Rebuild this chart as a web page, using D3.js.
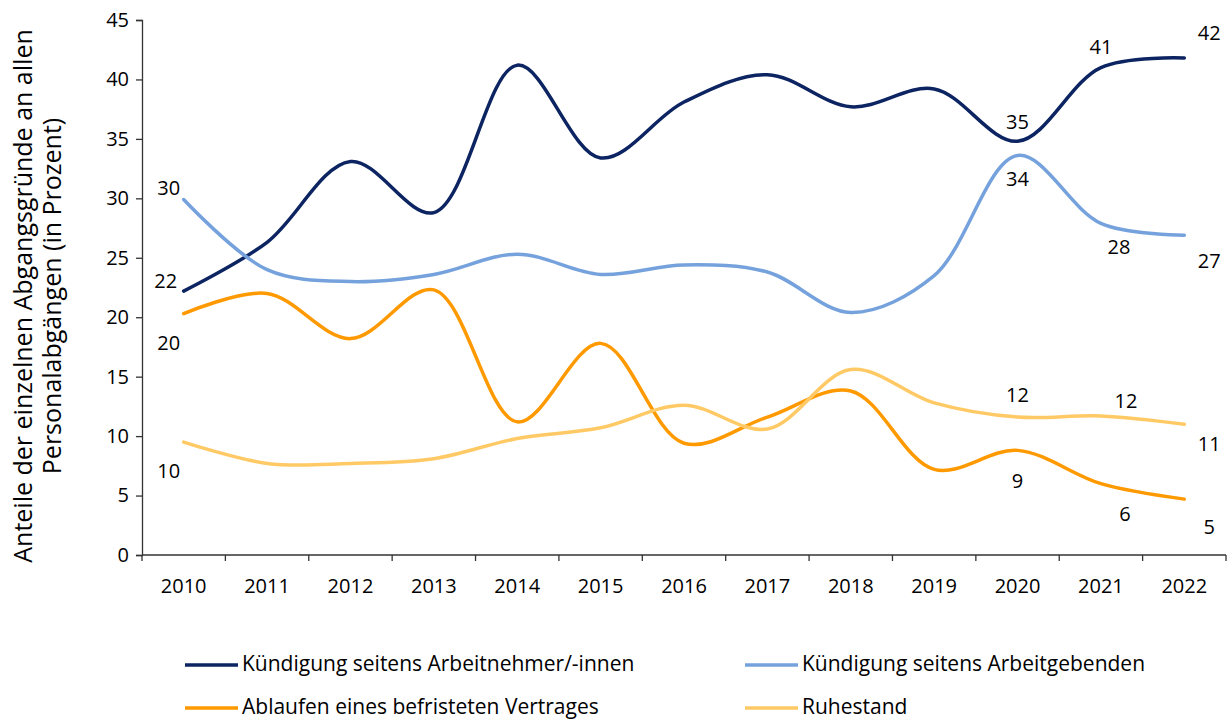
<!DOCTYPE html>
<html>
<head>
<meta charset="utf-8">
<title>Abgangsgründe</title>
<script src="https://cdn.jsdelivr.net/npm/d3@7"></script>
<style>
  body { margin: 0; background: #fff; }
  text { font-family: "Open Sans", sans-serif; fill: #000; }
</style>
</head>
<body>
<script>
var years = ["2010","2011","2012","2013","2014","2015","2016","2017","2018","2019","2020","2021","2022"];
var arbeitnehmer = [22.2, 26.3, 33.1, 28.8, 41.2, 33.4, 38.1, 40.4, 37.7, 39.2, 34.8, 41.0, 41.8];
var arbeitgeber  = [29.9, 24.0, 23.0, 23.6, 25.3, 23.6, 24.4, 23.8, 20.4, 23.5, 33.6, 27.9, 26.9];
var befristet    = [20.3, 22.0, 18.2, 22.3, 11.2, 17.8, 9.4, 11.6, 13.8, 7.2, 8.8, 6.0, 4.7];
var ruhestand    = [9.5, 7.7, 7.7, 8.1, 9.8, 10.7, 12.6, 10.6, 15.6, 12.8, 11.6, 11.7, 11.0];
var yTicks = [0,5,10,15,20,25,30,35,40,45];
var names = ["Kündigung seitens Arbeitnehmer/-innen", "Kündigung seitens Arbeitgebenden",
             "Ablaufen eines befristeten Vertrages", "Ruhestand"];
// which years get a value label
var labelYears = ["2010","2020","2021","2022"];

var width = 1229, height = 721;
var padding = {left: 142, right: 3, top: 20, bottom: 166};

var svg = d3.select("body").append("svg")
  .attr("width", width).attr("height", height);

var x = d3.scaleBand().domain(years).range([padding.left, width - padding.right]);
var y = d3.scaleLinear().domain([0,45]).range([height - padding.bottom, padding.top]);

var series = [
  {name: names[0], values: arbeitnehmer, color: "#0c2461",
   pos: [[-18,-8],[0,-18],[0,-19],[25,-23]]},
  {name: names[1], values: arbeitgeber, color: "#75a2dc",
   pos: [[-15,-10],[0,25],[18,25],[25,27]]},
  {name: names[2], values: befristet, color: "#ff9900",
   pos: [[-15,31],[0,32],[24,32],[25,30]]},
  {name: names[3], values: ruhestand, color: "#ffca66",
   pos: [[-15,31],[0,-20],[25,-13],[25,21]]}
];

// y axis
svg.append("g")
  .attr("transform", "translate(" + padding.left + ",0)")
  .call(d3.axisLeft(y).tickValues(yTicks).tickSize(6).tickPadding(7))
  .call(function(g){
    g.select(".domain").attr("stroke", "#333").attr("stroke-width", 1.3);
    g.selectAll(".tick line").attr("stroke", "#333").attr("stroke-width", 1.3);
    g.selectAll("text").style("font-size", "20px").attr("fill", "#000");
  });

// x axis, ticks between categories
var xg = svg.append("g")
  .attr("transform", "translate(0," + y(0) + ")");
xg.append("line")
  .attr("x1", padding.left).attr("x2", width - padding.right)
  .attr("stroke", "#333").attr("stroke-width", 1.3);
xg.selectAll(".tk").data(years.concat(["end"])).enter().append("line")
  .attr("x1", function(d,i){ return padding.left + i * x.bandwidth(); })
  .attr("x2", function(d,i){ return padding.left + i * x.bandwidth(); })
  .attr("y1", 0).attr("y2", 6)
  .attr("stroke", "#333").attr("stroke-width", 1.3);
xg.selectAll(".lbl").data(years).enter().append("text")
  .attr("x", function(d){ return x(d) + x.bandwidth()/2; })
  .attr("y", 38)
  .attr("text-anchor", "middle")
  .style("font-size", "20px")
  .text(function(d){ return d; });

// axis title
var title = svg.append("text")
  .attr("transform", "translate(32,296) rotate(-90)")
  .attr("text-anchor", "middle")
  .style("font-size", "25px");
title.append("tspan").attr("x", 0).attr("dy", 0)
  .text("Anteile der einzelnen Abgangsgründe an allen");
title.append("tspan").attr("x", 0).attr("dy", 29)
  .text("Personalabgängen (in Prozent)");

var line = d3.line()
  .x(function(d,i){ return x(years[i]) + x.bandwidth()/2; })
  .y(function(d){ return y(d); })
  .curve(d3.curveCatmullRom.alpha(0.5));

series.forEach(function(s){
  svg.append("path")
    .attr("d", line(s.values))
    .attr("fill", "none")
    .attr("stroke", s.color)
    .attr("stroke-width", 3.5)
    .attr("stroke-linecap", "round");

  labelYears.forEach(function(yr, j){
    var i = years.indexOf(yr);
    svg.append("text")
      .attr("x", x(yr) + x.bandwidth()/2 + s.pos[j][0])
      .attr("y", y(s.values[i]) + s.pos[j][1])
      .attr("text-anchor", "middle")
      .attr("dominant-baseline", "middle")
      .style("font-size", "20px")
      .text(Math.round(s.values[i]));
  });
});

// legend
var legendPos = [[185,665],[745,665],[185,708],[745,708]];
series.forEach(function(s, i){
  var g = svg.append("g")
    .attr("transform", "translate(" + legendPos[i][0] + "," + legendPos[i][1] + ")");
  g.append("line")
    .attr("x1", 0).attr("x2", 53)
    .attr("stroke", s.color).attr("stroke-width", 3.5);
  g.append("text")
    .attr("x", 57).attr("y", 0)
    .attr("dominant-baseline", "middle")
    .style("font-size", "21px")
    .text(s.name);
});
</script>
</body>
</html>
